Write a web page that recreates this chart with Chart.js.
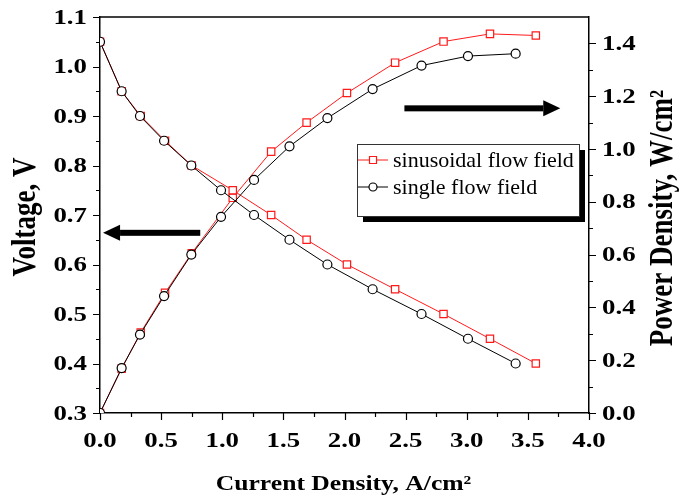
<!DOCTYPE html>
<html>
<head>
<meta charset="utf-8">
<script src="https://cdn.jsdelivr.net/npm/chart.js@4.4.1/dist/chart.umd.min.js"></script>
<style>
  html, body { margin: 0; padding: 0; background: #fff; }
  #wrap { width: 690px; height: 499px; }
</style>
</head>
<body>
<div id="wrap"><canvas id="polChart" width="690" height="499"></canvas></div>
<script>
const seriesNames = ['sinusoidal flow field', 'single flow field'];

const currentSin = [0, 0.177, 0.333, 0.532, 0.75, 1.086, 1.40, 1.69, 2.02, 2.414, 2.81, 3.19, 3.565];
const voltageSin = [1.05, 0.95, 0.90, 0.85, 0.80, 0.75, 0.70, 0.65, 0.60, 0.55, 0.50, 0.45, 0.40];
const powerSin = [0, 0.168, 0.305, 0.455, 0.605, 0.815, 0.99, 1.10, 1.212, 1.327, 1.407, 1.436, 1.43];

const currentSingle = [0, 0.177, 0.327, 0.524, 0.747, 0.99, 1.26, 1.55, 1.86, 2.23, 2.63, 3.01, 3.40];
const voltageSingle = [1.05, 0.95, 0.90, 0.85, 0.80, 0.75, 0.70, 0.65, 0.60, 0.55, 0.50, 0.45, 0.40];
const powerSingle = [0, 0.17, 0.297, 0.443, 0.60, 0.743, 0.883, 1.01, 1.117, 1.227, 1.316, 1.352, 1.361];

const xTicks = [0, 0.5, 1.0, 1.5, 2.0, 2.5, 3.0, 3.5, 4.0];
const xMinorTicks = [0.25, 0.75, 1.25, 1.75, 2.25, 2.75, 3.25, 3.75];
const voltageTicks = [0.3, 0.4, 0.5, 0.6, 0.7, 0.8, 0.9, 1.0, 1.1];
const voltageMinorTicks = [0.35, 0.45, 0.55, 0.65, 0.75, 0.85, 0.95, 1.05];
const powerTicks = [0, 0.2, 0.4, 0.6, 0.8, 1.0, 1.2, 1.4];
const powerMinorTicks = [0.1, 0.3, 0.5, 0.7, 0.9, 1.1, 1.3];

const xTitle = 'Current Density, A/cm²';
const voltageTitle = 'Voltage, V';
const powerTitle = 'Power Density, W/cm²';

const serif = '"Liberation Serif", "Times New Roman", serif';
const RED = '#ff1a1a';
// the original figure is a bit wider than tall, its lettering too
const STRETCH = 1.22;

function fixedTicks(values) {
    return scale => { scale.ticks = values.map(v => ({ value: v })); };
}

// fixed axis box, and no extra room for overhanging labels
function boxSize(prop, size) {
    return s => {
        s[prop] = size;
        s.paddingTop = s.paddingBottom = s.paddingLeft = s.paddingRight = 0;
    };
}

function points(xs, ys) {
    return xs.map((x, i) => ({ x: x, y: ys[i] }));
}

function wideText(ctx, text, x, y, align, rotate) {
    ctx.save();
    ctx.translate(x, y);
    ctx.scale(STRETCH, 1);
    if (rotate) ctx.rotate(-Math.PI / 2);
    ctx.textAlign = align;
    ctx.fillText(text, 0, 0);
    ctx.restore();
}

function arrow(ctx, xFrom, xTo, y) {
    const dir = Math.sign(xTo - xFrom);
    const head = 17;
    ctx.fillRect(Math.min(xFrom, xTo - dir * head), y - 3, Math.abs(xTo - xFrom) - head, 6);
    ctx.beginPath();
    ctx.moveTo(xTo, y);
    ctx.lineTo(xTo - dir * head, y - 8);
    ctx.lineTo(xTo - dir * head, y + 8);
    ctx.closePath();
    ctx.fill();
}

// frame, ticks and labels, titles, arrows and the boxed legend
const decorations = {
    id: 'decorations',
    afterDraw(chart) {
        const { ctx, chartArea: a, scales } = chart;
        ctx.save();
        ctx.strokeStyle = '#000';
        ctx.lineWidth = 1.5;
        ctx.beginPath();
        ctx.moveTo(a.left, a.top);
        ctx.lineTo(a.right, a.top);
        ctx.stroke();

        ctx.lineWidth = 1.2;
        ctx.beginPath();
        xTicks.concat(xMinorTicks).forEach(v => {
            const px = Math.round(scales.x.getPixelForValue(v)) + 0.5;
            ctx.moveTo(px, a.bottom);
            ctx.lineTo(px, a.bottom + (xTicks.includes(v) ? 7 : 4));
        });
        voltageTicks.concat(voltageMinorTicks).forEach(v => {
            const py = Math.round(scales.y.getPixelForValue(v)) + 0.5;
            ctx.moveTo(a.left, py);
            ctx.lineTo(a.left - (voltageTicks.includes(v) ? 7 : 4), py);
        });
        powerTicks.concat(powerMinorTicks).forEach(v => {
            const py = Math.round(scales.y1.getPixelForValue(v)) + 0.5;
            ctx.moveTo(a.right, py);
            ctx.lineTo(a.right + (powerTicks.includes(v) ? 7 : 4), py);
        });
        ctx.stroke();

        ctx.fillStyle = '#000';
        ctx.textBaseline = 'middle';
        ctx.font = 'bold 22px ' + serif;
        xTicks.forEach(v => wideText(ctx, v.toFixed(1), scales.x.getPixelForValue(v), a.bottom + 28, 'center'));
        voltageTicks.forEach(v => wideText(ctx, v.toFixed(1), a.left - 13, scales.y.getPixelForValue(v) + 1, 'right'));
        powerTicks.forEach(v => wideText(ctx, v.toFixed(1), a.right + 13, scales.y1.getPixelForValue(v) + 1, 'left'));

        ctx.font = 'bold 21px ' + serif;
        wideText(ctx, xTitle, (a.left + a.right) / 2 - 1, a.bottom + 72, 'center');
        ctx.font = 'bold 27px ' + serif;
        wideText(ctx, voltageTitle, 26, (a.top + a.bottom) / 2 + 2, 'center', true);
        wideText(ctx, powerTitle, 663, (a.top + a.bottom) / 2 + 3, 'center', true);

        // arrows pointing to the axis each curve belongs to
        arrow(ctx, scales.x.getPixelForValue(0.82), scales.x.getPixelForValue(0.025), scales.y.getPixelForValue(0.664));
        arrow(ctx, scales.x.getPixelForValue(2.49), scales.x.getPixelForValue(3.765), scales.y1.getPixelForValue(1.154));

        // legend
        const lx = a.left + 257, ly = a.top + 127, lw = 222, lh = 72;
        ctx.fillStyle = '#000';
        ctx.fillRect(lx + 6, ly + 6, lw, lh);
        ctx.fillStyle = '#fff';
        ctx.fillRect(lx, ly, lw, lh);
        ctx.strokeStyle = '#333';
        ctx.lineWidth = 1;
        ctx.strokeRect(lx + 0.5, ly + 0.5, lw, lh);

        const styles = [{ color: RED, shape: 'rect' }, { color: '#000', shape: 'circle' }];
        ctx.font = '22px ' + serif;
        ctx.textAlign = 'left';
        seriesNames.forEach((name, i) => {
            const y = ly + 16 + i * 27;
            ctx.strokeStyle = styles[i].color;
            ctx.lineWidth = 1;
            ctx.beginPath();
            ctx.moveTo(lx + 1, y);
            ctx.lineTo(lx + 31, y);
            ctx.stroke();
            ctx.fillStyle = '#fff';
            ctx.lineWidth = 1.2;
            ctx.beginPath();
            if (styles[i].shape === 'rect') {
                ctx.rect(lx + 16 - 3.5, y - 3.5, 7, 7);
            } else {
                ctx.arc(lx + 16, y, 4, 0, Math.PI * 2);
            }
            ctx.fill();
            ctx.stroke();
            ctx.fillStyle = '#000';
            ctx.fillText(name, lx + 36, y + 1);
        });
        ctx.restore();
    }
};

function series(label, xs, ys, axis, color, shape, radius, order) {
    return {
        label: label,
        data: points(xs, ys),
        yAxisID: axis,
        showLine: true,
        borderColor: color,
        borderWidth: 1,
        backgroundColor: '#fff',
        pointStyle: shape,
        pointRadius: radius,
        pointHoverRadius: radius,
        pointBorderWidth: 1.2,
        pointBorderColor: color,
        pointBackgroundColor: '#fff',
        tension: 0,
        order: order
    };
}

function axis(position, min, max, ticks, size) {
    return {
        type: 'linear', position: position, min: min, max: max,
        afterBuildTicks: fixedTicks(ticks),
        afterFit: boxSize(position === 'bottom' ? 'height' : 'width', size),
        grid: { display: false, drawTicks: false },
        border: { display: true, color: '#000', width: 1.5 },
        ticks: { display: false, autoSkip: false },
        title: { display: false }
    };
}

new Chart(document.getElementById('polChart'), {
    type: 'scatter',
    data: {
        datasets: [
            series(seriesNames[1], currentSingle, voltageSingle, 'y', '#000', 'circle', 4.5, 1),
            series(seriesNames[1], currentSingle, powerSingle, 'y1', '#000', 'circle', 4.5, 1),
            series(seriesNames[0], currentSin, voltageSin, 'y', RED, 'rect', 5.2, 2),
            series(seriesNames[0], currentSin, powerSin, 'y1', RED, 'rect', 5.2, 2)
        ]
    },
    options: {
        responsive: false,
        animation: false,
        layout: { padding: { top: 17, left: 0, right: 0, bottom: 0 } },
        plugins: {
            legend: { display: false },
            tooltip: { enabled: false }
        },
        scales: {
            x: axis('bottom', 0, 4, xTicks, 86),
            y: axis('left', 0.3, 1.1, voltageTicks, 100),
            y1: axis('right', 0, 1.5, powerTicks, 101)
        }
    },
    plugins: [decorations]
});
</script>
</body>
</html>
